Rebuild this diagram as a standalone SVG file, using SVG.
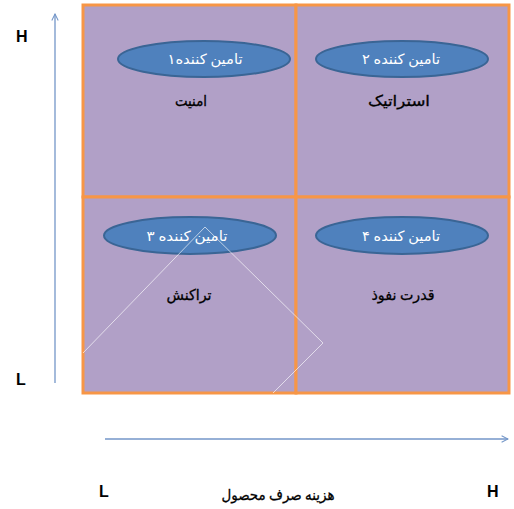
<svg xmlns="http://www.w3.org/2000/svg" width="514" height="509" viewBox="0 0 514 509">
<defs>
<style>
.cell{fill:#B1A0C7;stroke:#F79646;stroke-width:3}
.oval{fill:#4F81BD;stroke:#3A6595;stroke-width:2}
.ot{fill:#FFFFFF;font-family:'Liberation Serif','DejaVu Sans',serif;font-size:14px;text-anchor:middle}
.lt{fill:#000000;stroke:#000000;stroke-width:0.3;font-family:'Liberation Serif','DejaVu Sans',serif;font-size:15px;text-anchor:middle}
.ax{fill:#000000;font-family:'Liberation Sans',Arial,sans-serif;font-size:16px;font-weight:bold}
.axis{stroke:#7396C8;stroke-width:1.3;fill:none}
</style>
<marker id="arr" viewBox="0 0 10 10" refX="9" refY="5" markerWidth="8" markerHeight="8" orient="auto" markerUnits="userSpaceOnUse">
<path d="M1,1 L9,5 L1,9" fill="none" stroke="#7396C8" stroke-width="1.3"/>
</marker>
</defs>
<rect width="514" height="509" fill="#FFFFFF"/>
<g id="q1">
<rect class="cell" x="83" y="5" width="213" height="192"/>
<ellipse class="oval" cx="204" cy="59" rx="86" ry="18"/>
<text class="ot" x="205" y="64" textLength="75" lengthAdjust="spacingAndGlyphs">تامین کننده۱</text>
<text class="lt" x="191" y="106" textLength="32" lengthAdjust="spacingAndGlyphs">امنیت</text>
</g>
<g id="q2">
<rect class="cell" x="296" y="5" width="213" height="192"/>
<ellipse class="oval" cx="402" cy="59" rx="86" ry="18"/>
<text class="ot" x="401" y="64" textLength="78" lengthAdjust="spacingAndGlyphs">تامین کننده ۲</text>
<text class="lt" x="399" y="106" textLength="62" lengthAdjust="spacingAndGlyphs">استراتیک</text>
</g>
<g id="q3">
<rect class="cell" x="83" y="197" width="213" height="196"/>
<ellipse class="oval" cx="190" cy="235.5" rx="86" ry="18.5"/>
<text class="ot" x="187" y="241" textLength="81" lengthAdjust="spacingAndGlyphs">تامین کننده ۳</text>
<text class="lt" x="189" y="300" textLength="45" lengthAdjust="spacingAndGlyphs">تراکنش</text>
</g>
<g id="q4">
<rect class="cell" x="296" y="197" width="213" height="196"/>
<ellipse class="oval" cx="402" cy="235.5" rx="86" ry="18.5"/>
<text class="ot" x="401" y="241" textLength="78" lengthAdjust="spacingAndGlyphs">تامین کننده ۴</text>
<text class="lt" x="403" y="300" textLength="63" lengthAdjust="spacingAndGlyphs">قدرت نفوذ</text>
</g>
<polyline points="83,353 205,227 323,343 273,393" fill="none" stroke="#FFFFFF" stroke-width="0.8" opacity="0.8"/>
<g id="connectors">
<line class="axis" x1="55" y1="383" x2="55" y2="14" marker-end="url(#arr)"/>
<line class="axis" x1="105" y1="439" x2="508" y2="439" marker-end="url(#arr)"/>
</g>
<g id="labels">
<text class="ax" x="16" y="42">H</text>
<text class="ax" x="16" y="385">L</text>
<text class="ax" x="99" y="497">L</text>
<text class="ax" x="487" y="497">H</text>
<text class="lt" x="278" y="500" font-size="16" textLength="113" lengthAdjust="spacingAndGlyphs">هزینه صرف محصول</text>
</g>
</svg>
